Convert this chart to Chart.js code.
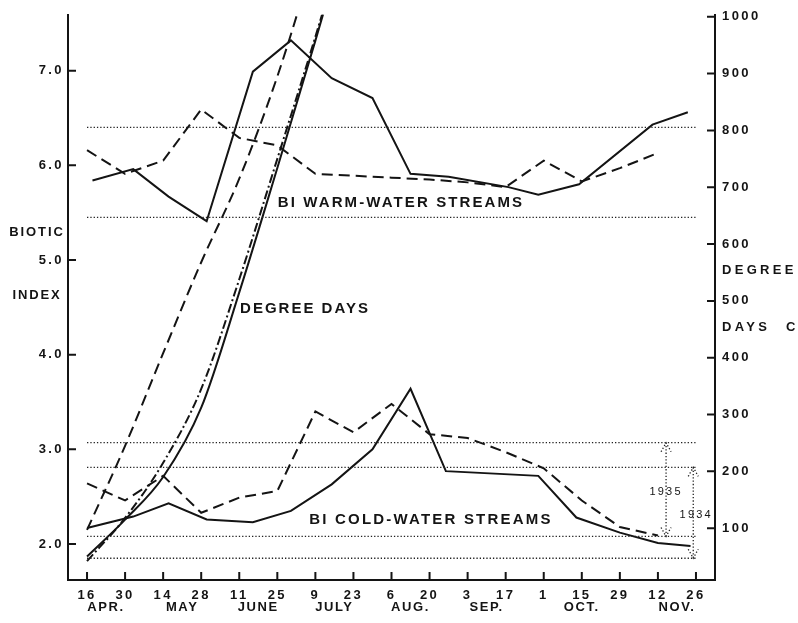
<!DOCTYPE html>
<html lang="en">
<head>
<meta charset="UTF-8">
<title>Biotic index and degree days</title>
<script src="https://cdn.jsdelivr.net/npm/chart.js@4.4.0/dist/chart.umd.min.js"></script>
<style>
    html, body { margin: 0; padding: 0; background: #fff; }
    #chart { display: block; }
</style>
</head>
<body>
<canvas id="chart" width="798" height="623"></canvas>
<script>
// days counted from 16 April, ticks every two weeks
const tickDays = [0, 14, 28, 42, 56, 70, 84, 98, 112, 126, 140, 154, 168, 182, 196, 210, 224];
const tickLabels = ['16', '30', '14', '28', '11', '25', '9', '23', '6', '20', '3', '17', '1', '15', '29', '12', '26'];
const monthNames = ['APR.', 'MAY', 'JUNE', 'JULY', 'AUG.', 'SEP.', 'OCT.', 'NOV.'];
const monthDays = [7, 35, 63, 91, 119, 147, 182, 217];
const biTicks = [2, 3, 4, 5, 6, 7];
const ddTicks = [100, 200, 300, 400, 500, 600, 700, 800, 900, 1000];

// biotic index - warm-water streams
const warmDashDays = [0, 14, 28, 42, 56, 70, 84, 98, 112, 126, 140, 154, 168, 182, 196, 210];
const warmDashBI = [6.16, 5.91, 6.05, 6.59, 6.29, 6.21, 5.91, 5.89, 5.87, 5.85, 5.82, 5.77, 6.05, 5.83, 5.97, 6.13];
const warmSolidDays = [2, 17, 30, 44, 61, 75, 90, 105, 119, 133, 155, 166, 181, 208, 221];
const warmSolidBI = [5.84, 5.96, 5.67, 5.41, 6.99, 7.32, 6.92, 6.71, 5.91, 5.88, 5.77, 5.69, 5.80, 6.43, 6.56];

// biotic index - cold-water streams
const coldDashDays = [0, 14, 28, 42, 56, 70, 84, 98, 112, 126, 140, 154, 168, 182, 196, 210];
const coldDashBI = [2.64, 2.46, 2.72, 2.33, 2.49, 2.56, 3.40, 3.18, 3.48, 3.16, 3.12, 2.97, 2.80, 2.46, 2.18, 2.09];
const coldSolidDays = [0, 17, 30, 44, 61, 75, 90, 105, 119, 132, 166, 180, 196, 210, 222];
const coldSolidBI = [2.17, 2.29, 2.43, 2.26, 2.23, 2.35, 2.63, 3.00, 3.64, 2.77, 2.72, 2.28, 2.12, 2.01, 1.98];

// degree days C (run off the top of the axis)
const ddDays = [0, 14, 28, 42, 56, 70, 84, 98];
const ddDashed = [97, 245, 408, 568, 715, 895, 1110, 1330];
const ddDashDot = [42, 118, 215, 345, 538, 750, 965, 1190];
const ddSolid = [50, 115, 190, 312, 515, 734, 958, 1188];

// BI ranges (dotted lines) and their brackets
const rangeDays = [0, 224];
const warmRange = [5.45, 6.40];
const cold1935 = [2.08, 3.07];
const cold1934 = [1.85, 2.81];
const bracketYears = ['1935', '1934'];
const bracketDays = [213, 223];

const INK = '#141414';
const FONT = '"Liberation Sans", Arial, sans-serif';

function pts(xs, ys) {
    return xs.map((x, i) => ({ x: x, y: ys[i] }));
}

function lineSet(xs, ys, dash, axis, smooth) {
    return {
        data: pts(xs, ys),
        yAxisID: axis,
        borderColor: INK,
        borderWidth: 2,
        borderDash: dash,
        pointRadius: 0,
        fill: false,
        tension: 0,
        cubicInterpolationMode: smooth ? 'monotone' : 'default'
    };
}

function dotSet(v) {
    return {
        data: pts(rangeDays, [v, v]),
        yAxisID: 'bi',
        borderColor: '#222',
        borderWidth: 1.3,
        borderDash: [1.3, 2],
        pointRadius: 0,
        fill: false
    };
}

function txt(ctx, s, x, y, size, spacing, align) {
    ctx.save();
    ctx.font = 'bold ' + size + 'px ' + FONT;
    ctx.fillStyle = INK;
    ctx.letterSpacing = spacing + 'px';
    ctx.textAlign = align || 'center';
    ctx.textBaseline = 'middle';
    ctx.fillText(s, x, y);
    ctx.restore();
}

function dottedArrow(ctx, x, y1, y2) {
    ctx.save();
    ctx.strokeStyle = '#222';
    ctx.lineWidth = 1.3;
    ctx.setLineDash([1.3, 2]);
    ctx.beginPath();
    ctx.moveTo(x, y1);
    ctx.lineTo(x, y2);
    ctx.moveTo(x - 5, y1 + 9); ctx.lineTo(x, y1); ctx.lineTo(x + 5, y1 + 9);
    ctx.moveTo(x - 5, y2 - 9); ctx.lineTo(x, y2); ctx.lineTo(x + 5, y2 - 9);
    ctx.stroke();
    ctx.restore();
}

const decor = {
    id: 'decor',
    beforeDraw(chart) {
        chart.ctx.letterSpacing = '2.4px';
    },
    afterDraw(chart) {
        const ctx = chart.ctx;
        const xs = chart.scales.x, bi = chart.scales.bi, dd = chart.scales.dd;
        const area = chart.chartArea;
        ctx.letterSpacing = '0px';

        // inward tick marks
        ctx.save();
        ctx.strokeStyle = INK;
        ctx.lineWidth = 2;
        ctx.beginPath();
        tickDays.forEach(d => {
            const px = xs.getPixelForValue(d);
            ctx.moveTo(px, area.bottom); ctx.lineTo(px, area.bottom - 8);
        });
        biTicks.forEach(v => {
            const py = bi.getPixelForValue(v);
            ctx.moveTo(area.left, py); ctx.lineTo(area.left + 8, py);
        });
        ddTicks.forEach(v => {
            const py = dd.getPixelForValue(v);
            ctx.moveTo(area.right, py); ctx.lineTo(area.right - 8, py);
        });
        ctx.stroke();
        ctx.restore();

        // month names under the day numbers
        monthNames.forEach((m, i) => {
            txt(ctx, m, xs.getPixelForValue(monthDays[i]), 607, 13, 1.6);
        });

        // axis titles
        txt(ctx, 'BIOTIC', 37, 232, 13, 1.9);
        txt(ctx, 'INDEX', 37, 295, 13, 1.9);
        txt(ctx, 'DEGREE', 722, 270, 13, 3.3, 'left');
        txt(ctx, 'DAYS', 722, 327, 13, 3.3, 'left');
        txt(ctx, 'C', 786, 327, 13, 0, 'left');

        // curve labels
        txt(ctx, 'BI WARM-WATER STREAMS', xs.getPixelForValue(115.5), bi.getPixelForValue(5.60), 15, 2.1);
        txt(ctx, 'DEGREE DAYS', xs.getPixelForValue(56.3), bi.getPixelForValue(4.48), 15, 2, 'left');
        txt(ctx, 'BI COLD-WATER STREAMS', xs.getPixelForValue(126.5), bi.getPixelForValue(2.25), 15, 2.2);

        // 1935 / 1934 ranges
        [cold1935, cold1934].forEach((r, i) => {
            const px = xs.getPixelForValue(bracketDays[i]);
            const yTop = bi.getPixelForValue(r[1]);
            const yBot = bi.getPixelForValue(r[0]);
            dottedArrow(ctx, px, yTop, yBot);
            ctx.save();
            ctx.font = '11px ' + FONT;
            ctx.fillStyle = INK;
            ctx.letterSpacing = '2.2px';
            ctx.textAlign = 'center';
            ctx.textBaseline = 'middle';
            ctx.fillText(bracketYears[i], px + (i ? 3 : 0), (yTop + yBot) / 2 + 2);
            ctx.restore();
        });
    }
};

Chart.defaults.font.family = FONT;
Chart.defaults.font.weight = 'bold';
Chart.defaults.color = INK;

new Chart(document.getElementById('chart'), {
    type: 'line',
    data: {
        datasets: [
            dotSet(warmRange[1]), dotSet(warmRange[0]),
            dotSet(cold1935[1]), dotSet(cold1934[1]),
            dotSet(cold1935[0]), dotSet(cold1934[0]),
            lineSet(warmDashDays, warmDashBI, [11, 6], 'bi'),
            lineSet(warmSolidDays, warmSolidBI, [], 'bi'),
            lineSet(coldDashDays, coldDashBI, [11, 6], 'bi'),
            lineSet(coldSolidDays, coldSolidBI, [], 'bi'),
            lineSet(ddDays, ddDashed, [11, 6], 'dd', true),
            lineSet(ddDays, ddDashDot, [9, 3, 2, 3], 'dd', true),
            lineSet(ddDays, ddSolid, [], 'dd', true)
        ]
    },
    options: {
        responsive: false,
        animation: false,
        devicePixelRatio: 1,
        layout: { padding: { top: 13, left: 0, right: 0, bottom: 0 } },
        plugins: { legend: { display: false }, tooltip: { enabled: false } },
        scales: {
            x: {
                type: 'linear',
                min: -7,
                max: 231,
                grid: { display: false, drawTicks: false },
                border: { display: true, color: INK, width: 2 },
                afterBuildTicks: s => { s.ticks = tickDays.map(v => ({ value: v })); },
                afterFit: s => { s.height = 43; },
                ticks: {
                    autoSkip: false,
                    maxRotation: 0,
                    padding: 8,
                    font: { size: 13 },
                    callback: v => tickLabels[tickDays.indexOf(v)]
                }
            },
            bi: {
                type: 'linear',
                position: 'left',
                min: 1.62,
                max: 7.59,
                grid: { display: false, drawTicks: false },
                border: { display: true, color: INK, width: 2 },
                afterBuildTicks: s => { s.ticks = biTicks.map(v => ({ value: v })); },
                afterFit: s => { s.width = 68; },
                ticks: {
                    padding: 4,
                    font: { size: 13 },
                    callback: v => v.toFixed(1)
                }
            },
            dd: {
                type: 'linear',
                position: 'right',
                min: 8.8,
                max: 1003.5,
                grid: { display: false, drawTicks: false },
                border: { display: true, color: INK, width: 2 },
                afterBuildTicks: s => { s.ticks = ddTicks.map(v => ({ value: v })); },
                afterFit: s => { s.width = 83; },
                ticks: {
                    padding: 7,
                    font: { size: 13 },
                    callback: v => String(v)
                }
            }
        }
    },
    plugins: [decor]
});
</script>
</body>
</html>
